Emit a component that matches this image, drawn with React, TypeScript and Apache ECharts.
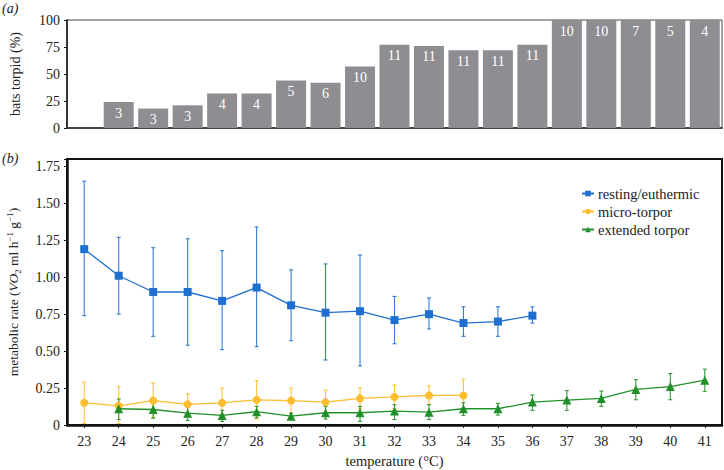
import React, { useEffect, useRef } from "react";
import * as echarts from "echarts";

const temps = ["23","24","25","26","27","28","29","30","31","32","33","34","35","36","37","38","39","40","41"];
const yTicksTop = [0, 25, 50, 75, 100];

// panel (a)
const pctTorpid = [null, 24, 18, 21, 32, 32, 44, 42, 57, 77, 76, 72, 72, 77, 100, 100, 100, 100, 100];
const batCounts = [null, 3, 3, 3, 4, 4, 5, 6, 10, 11, 11, 11, 11, 11, 10, 10, 7, 5, 4];

// panel (b) resting/euthermic
const restMean = [1.19, 1.01, 0.90, 0.90, 0.84, 0.93, 0.81, 0.76, 0.77, 0.71, 0.75, 0.69, 0.70, 0.74, null, null, null, null, null];
const restHigh = [1.65, 1.27, 1.20, 1.26, 1.18, 1.34, 1.05, 1.09, 1.15, 0.87, 0.86, 0.80, 0.80, 0.80, null, null, null, null, null];
const restLow = [0.74, 0.75, 0.60, 0.54, 0.51, 0.53, 0.57, 0.44, 0.40, 0.55, 0.65, 0.60, 0.60, 0.69, null, null, null, null, null];

// micro-torpor
const microMean = [0.15, 0.13, 0.165, 0.14, 0.15, 0.17, 0.165, 0.155, 0.18, 0.19, 0.20, 0.20, null, null, null, null, null, null, null];
const microHigh = [0.29, 0.26, 0.285, 0.21, 0.25, 0.30, 0.25, 0.235, 0.25, 0.27, 0.265, 0.31, null, null, null, null, null, null, null];
const microLow = [0.01, 0.01, 0.05, 0.07, 0.05, 0.04, 0.08, 0.08, 0.11, 0.11, 0.14, 0.09, null, null, null, null, null, null, null];

// extended torpor
const extMean = [null, 0.11, 0.105, 0.08, 0.065, 0.09, 0.06, 0.083, 0.083, 0.094, 0.087, 0.11, 0.11, 0.155, 0.169, 0.18, 0.241, 0.26, 0.303];
const extHigh = [null, 0.176, 0.15, 0.12, 0.10, 0.126, 0.08, 0.126, 0.126, 0.137, 0.137, 0.151, 0.146, 0.203, 0.233, 0.23, 0.307, 0.348, 0.378];
const extLow = [null, 0.037, 0.046, 0.031, 0.024, 0.05, 0.04, 0.04, 0.024, 0.037, 0.037, 0.065, 0.067, 0.099, 0.099, 0.126, 0.171, 0.171, 0.228];

const FONT = "'Liberation Serif', 'DejaVu Serif', serif";
const BLUE = "#1f6fd1";
const YELLOW = "#fdbd2e";
const GREEN = "#22902a";
const GRAY = "#8e8d92";
const FS = 14;

function errData(lo: (number | null)[], hi: (number | null)[]) {
  const out: number[][] = [];
  lo.forEach((l, i) => {
    const h = hi[i];
    if (l != null && h != null) out.push([i, l, h]);
  });
  return out;
}

function errSeries(name: string, lo: (number | null)[], hi: (number | null)[], color: string) {
  return {
    type: "custom",
    name: name + "-err",
    xAxisIndex: 1,
    yAxisIndex: 1,
    z: 1,
    silent: true,
    encode: { x: 0, y: [1, 2] },
    data: errData(lo, hi),
    renderItem: (params: any, api: any) => {
      const i = api.value(0);
      const pLo = api.coord([i, api.value(1)]);
      const pHi = api.coord([i, api.value(2)]);
      const w = 2;
      const style = { stroke: color, lineWidth: 1.1, opacity: 0.9 };
      return {
        type: "group",
        children: [
          { type: "line", shape: { x1: pLo[0], y1: pLo[1], x2: pHi[0], y2: pHi[1] }, style },
          { type: "line", shape: { x1: pHi[0] - w, y1: pHi[1], x2: pHi[0] + w, y2: pHi[1] }, style },
          { type: "line", shape: { x1: pLo[0] - w, y1: pLo[1], x2: pLo[0] + w, y2: pLo[1] }, style },
        ],
      };
    },
  };
}

export default function App() {
  const ref = useRef<HTMLDivElement>(null);
  useEffect(() => {
    if (!ref.current) return;
    const chart = echarts.init(ref.current, null, { renderer: "svg" });
    const txt = { fontFamily: FONT, color: "#222", fontSize: FS };
    chart.setOption({
      animation: false,
      textStyle: { fontFamily: FONT },
      graphic: [
        { type: "text", left: 2, top: 1, style: { text: "(a)", font: "italic 14px " + FONT, fill: "#222" } },
        { type: "text", left: 2, top: 151, style: { text: "(b)", font: "italic 14px " + FONT, fill: "#222" } },
      ],
      legend: {
        data: ["resting/euthermic", "micro-torpor", "extended torpor"],
        orient: "vertical",
        left: 576,
        top: 181,
        itemWidth: 12,
        itemHeight: 7,
        itemGap: 3,
        textStyle: { fontFamily: FONT, fontSize: 14.5, color: "#222", padding: [0, 0, 0, -1] },
      },
      grid: [
        { left: 67, right: 2, top: 20, height: 108, show: true, borderColor: "#444", borderWidth: 1, outerBoundsMode: "none", containLabel: false },
        { left: 67, right: 2, top: 159, height: 266, show: true, borderColor: "#111", borderWidth: 2, outerBoundsMode: "none", containLabel: false },
      ],
      xAxis: [
        {
          type: "category",
          gridIndex: 0,
          data: temps,
          axisLine: { lineStyle: { color: "#444", width: 2 } },
          axisTick: { show: false },
          axisLabel: { show: false },
        },
        {
          type: "category",
          gridIndex: 1,
          data: temps,
          name: "temperature (°C)",
          nameLocation: "middle",
          nameGap: 28,
          nameTextStyle: { ...txt, fontSize: 14.5 },
          axisLine: { lineStyle: { color: "#111", width: 2.5 } },
          axisTick: { show: true, alignWithLabel: true, length: 3, lineStyle: { color: "#111" } },
          axisLabel: { ...txt, margin: 9 },
        },
      ],
      yAxis: [
        {
          type: "value",
          gridIndex: 0,
          min: 0,
          max: 100,
          interval: 25,
          name: "bats torpid (%)",
          nameLocation: "middle",
          nameGap: 45,
          nameRotate: 90,
          nameTextStyle: { ...txt },
          splitLine: { show: false },
          axisLine: { show: true, lineStyle: { color: "#111", width: 1.5 } },
          axisTick: { show: true, length: 3, lineStyle: { color: "#111" } },
          axisLabel: { ...txt, margin: 7, formatter: (v: number) => (yTicksTop.includes(v) ? String(v) : "") },
        },
        {
          type: "value",
          gridIndex: 1,
          min: 0,
          max: 1.8,
          interval: 0.25,
          name:
            "{n|metabolic rate (}{i|VO}{sub|2}{n| ml h}{sup|−1}{n| g}{sup|−1}{n|)}",
          nameLocation: "middle",
          nameGap: 45,
          nameRotate: 90,
          nameTextStyle: {
            rich: {
              n: { fontFamily: FONT, fontSize: 13.5, color: "#222", lineHeight: 17 },
              i: { fontFamily: FONT, fontSize: 13.5, fontStyle: "italic", color: "#222", lineHeight: 17 },
              sub: { fontFamily: FONT, fontSize: 9, color: "#222", lineHeight: 9, verticalAlign: "bottom" },
              sup: { fontFamily: FONT, fontSize: 9, color: "#222", lineHeight: 9, verticalAlign: "top" },
            },
          },
          splitLine: { show: false },
          axisLine: { show: true, lineStyle: { color: "#111", width: 2.5 } },
          axisTick: { show: true, length: 3, lineStyle: { color: "#111" } },
          axisLabel: {
            ...txt,
            margin: 7,
            formatter: (v: number) => {
              if (Math.abs(v * 4 - Math.round(v * 4)) > 1e-6) return "";
              return v === 0 ? "0" : v.toFixed(2);
            },
          },
        },
      ],
      series: [
        {
          type: "bar",
          name: "bats torpid",
          xAxisIndex: 0,
          yAxisIndex: 0,
          data: pctTorpid,
          barCategoryGap: "13%",
          itemStyle: { color: GRAY },
          label: {
            show: true,
            position: "insideTop",
            distance: 4,
            color: "#fff",
            fontFamily: FONT,
            fontSize: FS,
            formatter: (p: any) => (batCounts[p.dataIndex] == null ? "" : String(batCounts[p.dataIndex])),
          },
        },
        errSeries("resting/euthermic", restLow, restHigh, BLUE),
        errSeries("micro-torpor", microLow, microHigh, YELLOW),
        errSeries("extended torpor", extLow, extHigh, GREEN),
        {
          type: "line",
          name: "resting/euthermic",
          xAxisIndex: 1,
          yAxisIndex: 1,
          data: restMean,
          z: 5,
          symbol: "rect",
          symbolSize: 8,
          color: BLUE,
          lineStyle: { width: 1.3, color: BLUE },
          itemStyle: { color: BLUE },
        },
        {
          type: "line",
          name: "micro-torpor",
          xAxisIndex: 1,
          yAxisIndex: 1,
          data: microMean,
          z: 4,
          symbol: "circle",
          symbolSize: 8,
          color: YELLOW,
          lineStyle: { width: 1.3, color: YELLOW },
          itemStyle: { color: YELLOW },
        },
        {
          type: "line",
          name: "extended torpor",
          xAxisIndex: 1,
          yAxisIndex: 1,
          data: extMean,
          z: 6,
          symbol: "triangle",
          symbolSize: 9,
          color: GREEN,
          lineStyle: { width: 1.3, color: GREEN },
          itemStyle: { color: GREEN },
        },
      ],
    });
    return () => chart.dispose();
  }, []);
  return <div ref={ref} style={{ width: 724, height: 470, position: "absolute", left: 0, top: 0 }} />;
}
